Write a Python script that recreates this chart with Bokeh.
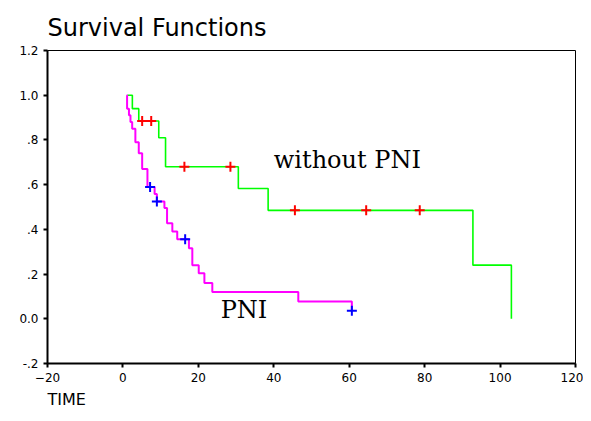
from bokeh.plotting import figure
from bokeh.models import Range1d, FixedTicker, Title, Label
from bokeh.embed import file_html
from bokeh.resources import INLINE

# Without PNI (green): step start/event times and survival after each
green_time = [1.2, 2.5, 4.2, 9.5, 11.3, 30.6, 38.5, 92.8, 103.0]
green_surv = [1.0, 0.94, 0.885, 0.81, 0.68, 0.583, 0.485, 0.24, 0.0]
green_cens_time = [5.1, 7.5, 16.3, 28.5, 45.6, 64.5, 78.7]
green_cens_surv = [0.885, 0.885, 0.68, 0.68, 0.485, 0.485, 0.485]

# PNI (magenta)
pni_time = [1.0, 1.1, 1.6, 2.0, 2.45, 3.3, 4.2, 5.1, 6.5, 8.4, 9.0, 11.0, 11.7,
            13.1, 14.4, 17.5, 18.4, 20.1, 21.6, 23.7, 46.5, 60.7]
pni_surv = [1.0, 0.94, 0.91, 0.88, 0.85, 0.79, 0.74, 0.67, 0.59, 0.558, 0.525,
            0.496, 0.427, 0.39, 0.356, 0.315, 0.24, 0.204, 0.16, 0.12, 0.077, 0.036]
pni_cens_time = [7.2, 9.0, 16.5, 60.7]
pni_cens_surv = [0.59, 0.525, 0.356, 0.036]

x_ticks = [-20, 0, 20, 40, 60, 80, 100, 120]
y_ticks = [-0.2, 0.0, 0.2, 0.4, 0.6, 0.8, 1.0, 1.2]
y_tick_labels = ["-.2", "0.0", ".2", ".4", ".6", ".8", "1.0", "1.2"]

p = figure(width=583, height=413, output_backend="svg", toolbar_location=None,
           x_range=Range1d(-20, 120), y_range=Range1d(-0.2, 1.2),
           min_border_left=47, min_border_right=8, min_border_top=50, min_border_bottom=50)
p.title.text = "Survival Functions"
p.title.text_font = "DejaVu Sans"
p.title.text_font_size = "24px"
p.title.text_font_style = "normal"
p.title.text_color = "black"
p.title.align = "left"
p.title.standoff = 18

p.xgrid.visible = False
p.ygrid.visible = False
p.outline_line_color = "black"
p.outline_line_width = 1

for ax in (p.xaxis[0], p.yaxis[0]):
    ax.axis_line_width = 2
    ax.major_tick_line_width = 2
    ax.major_tick_in = 0
    ax.major_tick_out = 4
    ax.minor_tick_line_color = None
    ax.major_label_text_font = "DejaVu Sans"
    ax.major_label_text_font_size = "12px"
    ax.major_label_text_color = "black"
    ax.major_label_standoff = 5

p.xaxis[0].ticker = FixedTicker(ticks=x_ticks)
p.yaxis[0].ticker = FixedTicker(ticks=y_ticks)
p.yaxis[0].major_label_overrides = {t: l for t, l in zip(y_ticks, y_tick_labels)}

p.step(green_time, green_surv, mode="after", line_color="#00ff00", line_width=1.6)
p.step(pni_time, pni_surv, mode="after", line_color="#ff00ff", line_width=2)
p.scatter(green_cens_time, green_cens_surv, marker="cross", size=10,
          line_color="#ff0000", line_width=2)
p.scatter(pni_cens_time, pni_cens_surv, marker="cross", size=10,
          line_color="#0000ff", line_width=2)

p.add_layout(Label(x=59.5, y=0.71, text="without PNI", text_font="DejaVu Serif",
                   text_font_size="24px", text_align="center",
                   text_baseline="alphabetic", text_color="black"))
p.add_layout(Label(x=32.1, y=0.04, text="PNI", text_font="DejaVu Serif",
                   text_font_size="24px", text_align="center",
                   text_baseline="alphabetic", text_color="black"))

p.add_layout(Title(text="TIME", align="left", text_font="DejaVu Sans",
                   text_font_size="16px", text_font_style="normal",
                   text_color="black", standoff=7), "below")

open("out.html", "w").write(file_html(p, INLINE))
